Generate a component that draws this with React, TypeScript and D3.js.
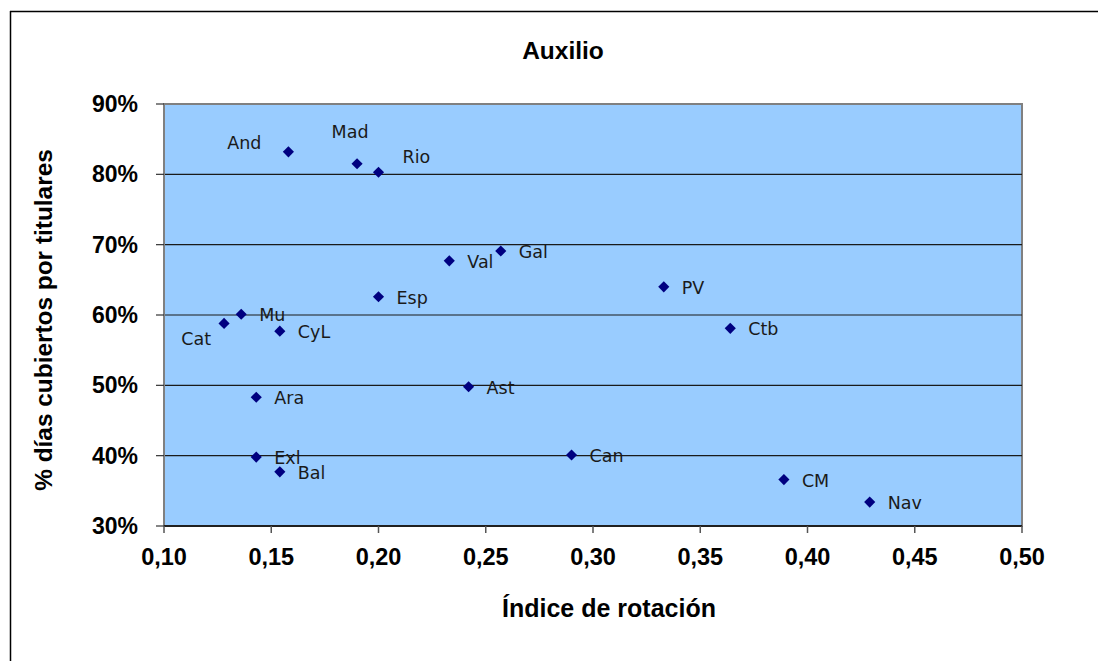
import React from "react";
import * as d3 from "d3";

const labels = ["And", "Mad", "Rio", "Gal", "Val", "Esp", "PV", "Ctb", "Mu", "Cat", "CyL", "Ara", "Ast", "Exl", "Bal", "Can", "CM", "Nav"];
const rotation = [0.158, 0.19, 0.2, 0.257, 0.233, 0.2, 0.333, 0.364, 0.136, 0.128, 0.154, 0.143, 0.242, 0.143, 0.154, 0.29, 0.389, 0.429];
const coverage = [0.832, 0.815, 0.803, 0.691, 0.677, 0.626, 0.64, 0.581, 0.601, 0.588, 0.577, 0.483, 0.498, 0.398, 0.377, 0.401, 0.366, 0.334];
// label placement: [dx, dy, anchor]
const labelPlace: Record<string, [number, number, string]> = {
  And: [-27, -3, "end"],
  Mad: [-7, -26, "middle"],
  Rio: [24, -9, "start"],
  Cat: [-13, 22, "end"],
};
const xTicks = [0.1, 0.15, 0.2, 0.25, 0.3, 0.35, 0.4, 0.45, 0.5];
const yTicks = [0.3, 0.4, 0.5, 0.6, 0.7, 0.8, 0.9];

export default function App() {
  const W = 1098, H = 661;
  const L = 164, R = 1022, T = 104, B = 526;
  const x = d3.scaleLinear().domain([0.1, 0.5]).range([L, R]);
  const y = d3.scaleLinear().domain([0.3, 0.9]).range([B, T]);
  const diamond = d3.symbol().type(d3.symbolSquare).size(62)();
  const fmtX = (v: number) => v.toFixed(2).replace(".", ",");
  const fmtY = (v: number) => Math.round(v * 100) + "%";
  const font = "'Liberation Sans', Arial, sans-serif";
  return (
    <svg width={W} height={H} style={{ position: "absolute", left: 0, top: 0 }}>
      <rect x={0} y={0} width={W} height={H} fill="#fff" />
      <line x1={10.5} y1={11} x2={10.5} y2={H} stroke="#000" strokeWidth={1.5} />
      <line x1={10} y1={11.5} x2={W} y2={11.5} stroke="#000" strokeWidth={1.5} />
      <text x={563} y={59} textAnchor="middle" fontFamily={font} fontWeight="bold" fontSize={24.5}>Auxilio</text>
      <rect x={L} y={T} width={R - L} height={B - T} fill="#99CCFF" stroke="#808080" strokeWidth={2} />
      {yTicks.slice(1, -1).map((v) => (
        <line key={v} x1={L} x2={R} y1={y(v)} y2={y(v)} stroke="#1a1a1a" strokeWidth={1.2} />
      ))}
      <line x1={L} x2={L} y1={T} y2={B} stroke="#808080" strokeWidth={2} />
      <line x1={L} x2={R} y1={B} y2={B} stroke="#000" strokeWidth={1.5} />
      {yTicks.map((v) => (
        <g key={v}>
          <line x1={L - 8} x2={L} y1={y(v)} y2={y(v)} stroke="#333" strokeWidth={1.2} />
          <text x={138} y={y(v) + 8} textAnchor="end" fontFamily={font} fontWeight="bold" fontSize={23}>{fmtY(v)}</text>
        </g>
      ))}
      {xTicks.map((v) => (
        <g key={v}>
          <line x1={x(v)} x2={x(v)} y1={B} y2={B + 7} stroke="#555" strokeWidth={1.5} />
          <text x={x(v)} y={565} textAnchor="middle" fontFamily={font} fontWeight="bold" fontSize={23.5}>{fmtX(v)}</text>
        </g>
      ))}
      <text x={609} y={617} textAnchor="middle" fontFamily={font} fontWeight="bold" fontSize={25}>Índice de rotación</text>
      <text transform={`translate(52,${320}) rotate(-90)`} textAnchor="middle" fontFamily={font} fontWeight="bold" fontSize={24.4}>% días cubiertos por titulares</text>
      {labels.map((lab, i) => {
        const px = x(rotation[i]);
        const py = y(coverage[i]);
        const [dx, dy, anchor] = labelPlace[lab] || [18, 7, "start"];
        return (
          <g key={lab}>
            <path d={diamond || ""} transform={`translate(${px},${py}) rotate(45)`} fill="#000080" />
            <text x={px + dx} y={py + dy} textAnchor={anchor} fontFamily="'DejaVu Sans', Verdana, sans-serif" fontSize={17.5} fill="#1a1a1a">{lab}</text>
          </g>
        );
      })}
    </svg>
  );
}
